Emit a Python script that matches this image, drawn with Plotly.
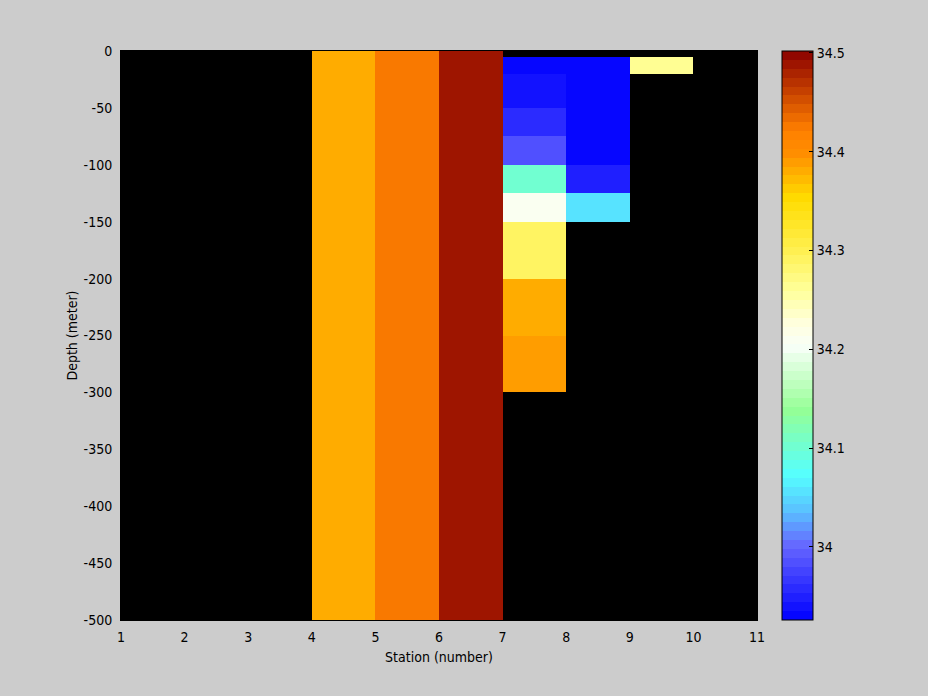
import plotly.graph_objects as go
from plotly.colors import sample_colorscale

# ---- data -------------------------------------------------------------
station_edges = [1, 2, 3, 4, 5, 6, 7, 8, 9, 10, 11]
depth_edges = [-500, -300, -250, -200, -150, -125, -100, -75, -50, -20, -5, 0]

# salinity per station cell, bottom row (-500..-300) to top row (-5..0)
N = None
st1 = [N, N, N, N, N, N, N, N, N, N, N]
st2 = [N, N, N, N, N, N, N, N, N, N, N]
st3 = [N, N, N, N, N, N, N, N, N, N, N]
st4 = [34.384, 34.384, 34.384, 34.384, 34.384, 34.384, 34.384, 34.384, 34.384, 34.384, 34.384]
st5 = [34.421, 34.421, 34.421, 34.421, 34.421, 34.421, 34.421, 34.421, 34.421, 34.421, 34.421]
st6 = [34.490, 34.490, 34.490, 34.490, 34.490, 34.490, 34.490, 34.490, 34.490, 34.490, 34.490]
st7 = [N, 34.394, 34.384, 34.292, 34.208, 34.105, 33.984, 33.953, 33.938, 33.926, N]
st8 = [N, N, N, N, 34.053, 33.945, 33.926, 33.926, 33.926, 33.926, N]
st9 = [N, N, N, N, N, N, N, N, N, 34.260, N]
st10 = [N, N, N, N, N, N, N, N, N, N, N]
station_columns = [st1, st2, st3, st4, st5, st6, st7, st8, st9, st10]

c_min, c_max = 33.926, 34.502
cbar_ticks = [34.0, 34.1, 34.2, 34.3, 34.4, 34.5]
cbar_labels = ["34", "34.1", "34.2", "34.3", "34.4", "34.5"]
x_ticks = [1, 2, 3, 4, 5, 6, 7, 8, 9, 10, 11]
y_ticks = [0, -50, -100, -150, -200, -250, -300, -350, -400, -450, -500]
y_labels = ["0", "-50", "-100", "-150", "-200", "-250", "-300", "-350", "-400", "-450", "-500"]

# ---- colormap (64 discrete levels) -------------------------------------
anchors = [
    [0.000, "#0000FF"],
    [0.130, "#6666FF"],
    [0.190, "#5AC0FF"],
    [0.255, "#55FFFF"],
    [0.370, "#95FF95"],
    [0.480, "#F8FFF8"],
    [0.520, "#FFFFE0"],
    [0.580, "#FFFF99"],
    [0.650, "#FFF050"],
    [0.740, "#FFDC00"],
    [0.822, "#FF8C00"],
    [0.860, "#FF8000"],
    [1.000, "#8B0000"],
]
nlev = 64
cols = sample_colorscale(anchors, [(i + 0.5) / nlev for i in range(nlev)], colortype="rgb")
cscale = []
for i, c in enumerate(cols):
    cscale.append([i / nlev, c])
    cscale.append([(i + 1) / nlev, c])

# z matrix rows = depth cells, cols = station cells
z = [[col[r] for col in station_columns] for r in range(len(depth_edges) - 1)]

FONT = "Liberation Sans Narrow, DejaVu Sans Condensed, Arial Narrow, sans-serif"

L, R, T, B = 121, 757, 51, 620
W, H = 928, 696
cb_x = (782 - L) / (R - L)

fig = go.Figure(go.Heatmap(
    x=station_edges, y=depth_edges, z=z,
    colorscale=cscale, zmin=c_min, zmax=c_max,
    hoverongaps=False,
    colorbar=dict(
        x=cb_x, xanchor="left", xref="paper", xpad=0,
        y=0.5, yanchor="middle", len=1, lenmode="fraction", ypad=0,
        thickness=31, outlinewidth=1, outlinecolor="black", borderwidth=0,
        tickmode="array", tickvals=cbar_ticks, ticktext=cbar_labels,
        ticks="inside", ticklen=4, tickcolor="black", tickwidth=1,
        tickfont=dict(family=FONT, size=14, color="black"),
    ),
))

# left-side colorbar ticks (MATLAB style)
for v in cbar_ticks:
    yy = (v - c_min) / (c_max - c_min)
    fig.add_shape(type="line", xref="paper", yref="paper",
                  x0=cb_x, x1=cb_x + 4 / (R - L), y0=yy, y1=yy,
                  line=dict(color="black", width=1))

fig.update_layout(
    width=W, height=H,
    margin=dict(l=L, r=W - R, t=T, b=H - B, pad=0),
    paper_bgcolor="#CCCCCC", plot_bgcolor="black",
    font=dict(family=FONT, size=14, color="black"),
    xaxis=dict(range=[1, 11], tickmode="array", tickvals=x_ticks,
               ticks="", showgrid=False, zeroline=False,
               showline=True, linecolor="black", linewidth=1, mirror=True,
               ticklabelstandoff=4,
               title=dict(text="Station (number)", standoff=8,
                          font=dict(family=FONT, size=14)),
               automargin=False),
    yaxis=dict(range=[-500, 0], tickmode="array", tickvals=y_ticks, ticktext=y_labels,
               ticks="", showgrid=False, zeroline=False,
               showline=True, linecolor="black", linewidth=1, mirror=True,
               ticklabelstandoff=5,
               title=dict(text="Depth (meter)", standoff=2,
                          font=dict(family=FONT, size=14)),
               automargin=False),
)

fig.write_html(
    "out.html",
    config={"displayModeBar": False},
    post_script="document.body.style.margin='0';document.body.style.background='#CCCCCC';",
)
